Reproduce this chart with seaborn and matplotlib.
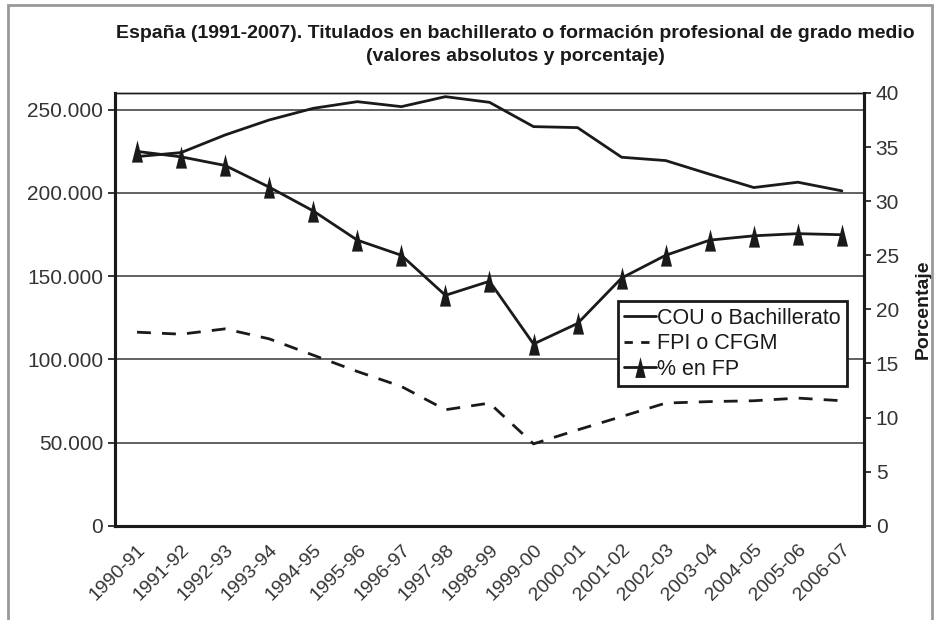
import matplotlib
matplotlib.use("Agg")
import matplotlib.pyplot as plt
import matplotlib.ticker as mticker
from matplotlib.patches import Rectangle
from matplotlib.lines import Line2D
import pandas as pd
import seaborn as sns

# Datos
cursos = ["1990-91", "1991-92", "1992-93", "1993-94", "1994-95", "1995-96",
          "1996-97", "1997-98", "1998-99", "1999-00", "2000-01", "2001-02",
          "2002-03", "2003-04", "2004-05", "2005-06", "2006-07"]
cou_bach = [221800, 224200, 234800, 243800, 250800, 254800, 251800, 257800,
            254400, 239800, 239200, 221400, 219400, 211200, 203200, 206400, 201200]
fpi_cfgm = [116300, 115100, 118300, 112300, 102500, 92700, 83700, 69700,
            73700, 49200, 57600, 65600, 73700, 74600, 75100, 76700, 75100]
pct_fp = [34.6, 34.1, 33.3, 31.3, 29.1, 26.4, 25.0, 21.3, 22.6, 16.8, 18.7,
          22.9, 25.0, 26.4, 26.8, 27.0, 26.9]

sns.set_style("white")
plt.rcParams["font.family"] = ["Liberation Sans", "DejaVu Sans"]

df = pd.DataFrame({"pos": range(len(cursos)), "cou": cou_bach,
                   "fpi": fpi_cfgm, "pct": pct_fp})

fig = plt.figure(figsize=(9.35, 6.2), dpi=100)
ax = fig.add_axes([0.123, 0.152, 0.801, 0.698])
ax2 = ax.twinx()

tri = [(-0.5, -1.0), (0.5, -1.0), (0.0, 1.0), (-0.5, -1.0)]

sns.lineplot(data=df, x="pos", y="cou", ax=ax, color="#1a1a1a", lw=2, legend=False)
sns.lineplot(data=df, x="pos", y="fpi", ax=ax, color="#1a1a1a", lw=2,
             legend=False).lines[-1].set_dashes([5, 4])
sns.lineplot(data=df, x="pos", y="pct", ax=ax2, color="#1a1a1a", lw=2,
             marker=tri, markersize=16, markeredgewidth=0, legend=False)

# Eje izquierdo
ax.set_ylim(0, 260000)
ax.set_yticks([0, 50000, 100000, 150000, 200000, 250000])
ax.yaxis.set_major_formatter(mticker.FuncFormatter(
    lambda v, p: f"{int(v):,}".replace(",", ".")))
ax.yaxis.grid(True, color="#555555", lw=1.3)
ax.set_axisbelow(True)
ax.set_ylabel("")
ax.set_xlabel("")

# Eje derecho
ax2.set_ylim(0, 40)
ax2.set_yticks(range(0, 41, 5))
ax2.set_ylabel("Porcentaje", fontsize=14, fontweight="bold", labelpad=11,
               color="#1a1a1a")

# Eje x: etiquetas centradas, marcas entre categorías
ax.set_xlim(-0.5, len(cursos) - 0.5)
ax.set_xticks(range(len(cursos)))
ax.set_xticklabels(cursos, rotation=45, ha="right", rotation_mode="anchor")
ax.set_xticks([i - 0.5 for i in range(len(cursos) + 1)], minor=True)
ax.tick_params(axis="x", which="major", length=0, labelsize=14, pad=11,
               labelcolor="#333333")
ax.tick_params(axis="x", which="minor", length=6, width=1.3, color="#1a1a1a")
ax.tick_params(axis="y", length=5, width=1.3, labelsize=15, labelcolor="#333333")
ax2.tick_params(axis="y", length=5, width=1.3, labelsize=15, labelcolor="#333333")
for a in (ax, ax2):
    for s in a.spines.values():
        s.set_color("#1a1a1a")
    a.spines["left"].set_linewidth(2.2)
    a.spines["bottom"].set_linewidth(2.2)
    a.spines["right"].set_linewidth(2.2)
    a.spines["top"].set_linewidth(1.0)

fig.suptitle("España (1991-2007). Titulados en bachillerato o formación profesional de grado medio\n"
             "(valores absolutos y porcentaje)", x=0.551, y=0.96, fontsize=14,
             fontweight="bold", color="#1a1a1a", linespacing=1.5)

handles = [
    Line2D([], [], color="#1a1a1a", lw=2),
    Line2D([], [], color="#1a1a1a", lw=2, dashes=[3, 3]),
    Line2D([], [], color="#1a1a1a", lw=2, marker=tri, markersize=15, markeredgewidth=0),
]
leg = ax2.legend(handles, ["COU o Bachillerato", "FPI o CFGM", "% en FP"],
                 loc="lower left", bbox_to_anchor=(0.671, 0.323), fontsize=15.5,
                 frameon=True, fancybox=False, framealpha=1, handlelength=1.5,
                 handletextpad=0.05, borderpad=0.3, labelspacing=0.2, borderaxespad=0)
leg.get_frame().set_edgecolor("#1a1a1a")
leg.get_frame().set_linewidth(2)
for t in leg.get_texts():
    t.set_color("#1a1a1a")

# Marco exterior gris
fig.patches.append(Rectangle((0.009, -0.02), 0.988, 1.012, transform=fig.transFigure,
                             fill=False, edgecolor="#999999", lw=2))

fig.savefig("out.png", dpi=100, facecolor="white")
